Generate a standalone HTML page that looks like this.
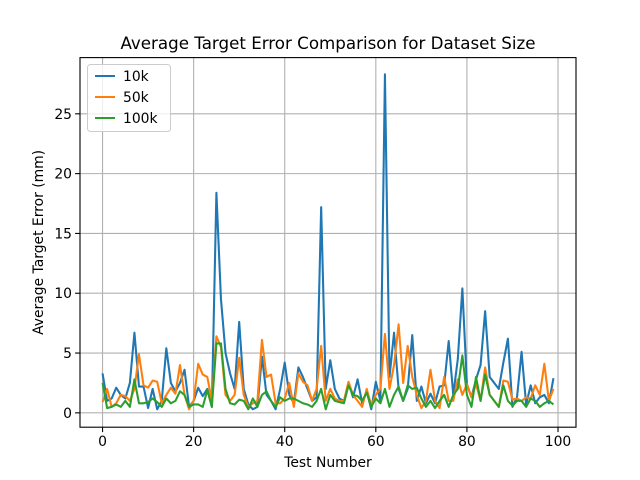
<!DOCTYPE html>
<html><head><meta charset="utf-8"><style>
body{margin:0;background:#fff;}
svg{display:block;font-family:"DejaVu Sans","Liberation Sans",sans-serif;}
</style></head><body>
<svg id="chart" width="640" height="480"></svg>
<script>
const xTicks=[0,20,40,60,80,100];
const yTicks=[0,5,10,15,20,25];
const seriesNames=["10k","50k","100k"];
const s10k=[3.3,1.0,1.2,2.1,1.5,1.2,2.5,6.7,2.2,2.2,0.4,2.0,0.3,1.0,5.4,2.5,1.8,2.5,3.6,0.5,1.0,2.1,1.4,2.0,0.5,18.4,9.5,5.0,3.3,2.0,7.6,2.0,0.7,0.3,0.5,4.7,1.5,1.0,0.3,2.0,4.2,1.5,0.8,3.8,3.0,2.0,1.0,1.3,17.2,2.0,4.4,2.0,1.2,1.0,2.5,1.3,2.8,0.8,1.8,0.3,2.6,1.0,28.3,3.0,6.7,2.0,1.0,2.0,6.5,1.0,2.2,0.8,1.6,0.8,2.2,2.3,6.0,1.5,4.5,10.4,2.4,1.3,2.8,4.0,8.5,3.0,2.5,2.0,4.2,6.2,0.5,1.3,5.1,0.7,2.3,0.8,1.3,1.5,0.8,2.9];
const s50k=[0.9,2.0,0.5,0.8,1.5,1.4,1.0,2.0,4.9,2.3,2.1,2.7,2.6,0.8,1.5,2.1,1.6,4.0,1.5,0.3,1.0,4.1,3.2,3.0,1.0,6.4,5.5,1.5,1.0,1.5,4.6,1.5,0.5,0.8,1.0,6.1,3.0,3.2,0.8,0.8,1.2,2.5,0.5,3.3,2.6,2.3,1.0,2.0,5.6,1.0,2.0,1.2,1.0,1.0,2.6,1.5,1.0,0.5,2.0,0.6,1.5,2.0,6.6,2.0,4.0,7.4,2.5,5.6,3.0,1.5,0.4,1.0,3.6,1.0,0.4,3.0,1.0,1.0,2.8,1.5,2.4,1.3,2.4,1.0,3.8,1.5,1.0,0.5,2.7,2.6,1.1,1.2,1.0,1.3,1.2,2.3,1.5,4.1,1.0,2.0];
const s100k=[2.5,0.4,0.5,0.7,0.5,1.0,0.5,2.8,0.8,0.8,0.9,1.2,0.9,0.5,1.2,0.8,1.0,1.8,1.5,0.5,0.7,0.7,0.5,1.9,0.5,5.8,5.8,2.0,0.8,0.7,1.1,1.0,0.3,1.2,0.5,1.5,1.8,1.0,0.5,1.3,1.0,1.2,1.2,1.0,0.8,0.7,0.5,1.0,2.0,0.3,1.5,1.0,0.9,0.8,2.3,1.5,1.4,1.0,1.7,0.5,1.2,0.8,2.0,0.5,1.5,2.2,1.0,2.3,2.0,2.1,1.2,0.5,1.0,0.4,1.0,1.5,0.5,1.5,2.0,4.8,1.5,0.5,3.0,1.0,3.2,1.5,1.0,0.5,2.3,1.0,0.6,1.0,1.0,0.5,1.2,1.0,0.5,0.8,1.0,0.7];
const colors=["#1f77b4","#ff7f0e","#2ca02c"];
const L=80,R=576,T=57.6,B=427.2;
const xMin=-4.95,xMax=103.95,yMin=-1.2,yMax=29.7;
const X=v=>L+(v-xMin)/(xMax-xMin)*(R-L);
const Y=v=>B-(v-yMin)/(yMax-yMin)*(B-T);
const svg=document.getElementById('chart');
const NS='http://www.w3.org/2000/svg';
function mk(tag,attrs,parent){const e=document.createElementNS(NS,tag);for(const k in attrs)e.setAttribute(k,attrs[k]);(parent||svg).appendChild(e);return e;}
xTicks.forEach(t=>{
 const g=mk('line',{x1:X(t),x2:X(t),y1:T,y2:B,stroke:'#b0b0b0','stroke-width':1.1});
 
 
 const tk=mk('line',{x1:X(t),x2:X(t),y1:B,y2:B+4.9,stroke:'#000','stroke-width':1.1});
 
 
 const tx=mk('text',{x:X(t),y:B+19,'text-anchor':'middle','font-size':13.9});
 tx.textContent=t;
 
 
});
yTicks.forEach(t=>{
 const g=mk('line',{x1:L,x2:R,y1:Y(t),y2:Y(t),stroke:'#b0b0b0','stroke-width':1.1});
 
 
 const tk=mk('line',{x1:L-4.9,x2:L,y1:Y(t),y2:Y(t),stroke:'#000','stroke-width':1.1});
 
 
 const tx=mk('text',{x:L-8,y:Y(t)+5,'text-anchor':'end','font-size':13.9});
 tx.textContent=t;
 
 
});
[s10k,s50k,s100k].forEach((s,i)=>{
 const p=mk('polyline',{points:s.map((v,j)=>X(j)+','+Y(v)).join(' '),fill:'none',stroke:colors[i],'stroke-width':2.08,'stroke-linejoin':'round'});
 
 
});
const fr=mk('rect',{x:L,y:T,width:R-L,height:B-T,fill:'none',stroke:'#000','stroke-width':1.1});


const ttl=mk('text',{x:(L+R)/2,y:49,'text-anchor':'middle','font-size':16.7});
ttl.textContent='Average Target Error Comparison for Dataset Size';


const xl=mk('text',{x:(L+R)/2,y:467,'text-anchor':'middle','font-size':13.9});
xl.textContent='Test Number';


const yl=mk('text',{x:0,y:0,'text-anchor':'middle','font-size':13.9,transform:'translate(43,'+((T+B)/2)+') rotate(-90)'});
yl.textContent='Average Target Error (mm)';


const lg=mk('g',{});


mk('rect',{x:87.5,y:64.5,width:83,height:67,rx:3,fill:'#fff','fill-opacity':0.8,stroke:'#ccc','stroke-width':1},lg);
seriesNames.forEach((n,i)=>{
 const y=76+i*21;
 const ln=mk('line',{x1:95,x2:115,y1:y,y2:y,stroke:colors[i],'stroke-width':2.08},lg);
 
 
 const t=mk('text',{x:123,y:y+5,'font-size':13.9},lg);
 t.textContent=n;
 
 
});
</script>
</body></html>
